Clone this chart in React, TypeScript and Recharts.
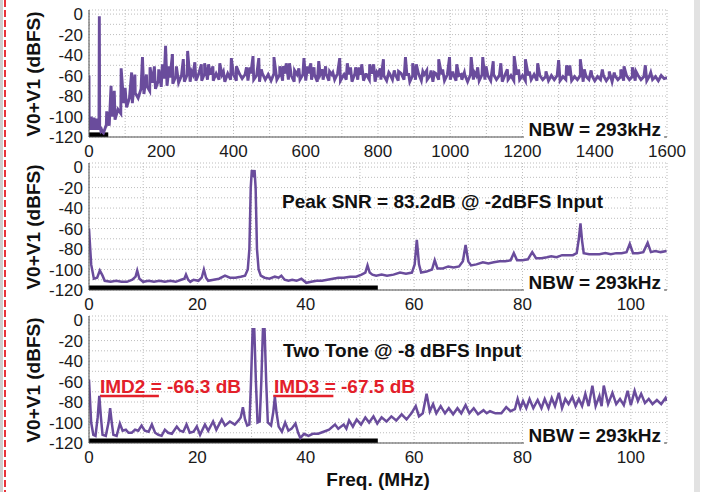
import React from 'react';
import { LineChart, Line, XAxis, YAxis, CartesianGrid, ReferenceArea, ReferenceLine } from 'recharts';

const PURPLE = '#6a4c9c';
const RED = '#e3202a';
const AXIS = '#505050';
const GRID = '#bdbdbd';
const FONT = '"Liberation Sans", Arial, sans-serif';

const yTicks = [-120, -110, -100, -90, -80, -70, -60, -50, -40, -30, -20, -10, 0];
const wideTicks = [0, 100, 200, 300, 400, 500, 600, 700, 800, 900, 1000, 1100, 1200, 1300, 1400, 1500, 1600];
const narrowTicks = [0, 10, 20, 30, 40, 50, 60, 70, 80, 90, 100];

// top panel, 0-1600 MHz: low band below 40 MHz, noise floor every 8 MHz, spurs
const wideLowFreq = [0, 0.5, 2, 4, 6, 8, 10, 12, 14, 16, 18, 20, 22, 24, 26, 27.5, 28.6, 29.6, 31, 33, 35, 37];
const wideLowVal = [-60, -112, -104, -113, -100, -112, -106, -113, -101, -111, -104, -113, -102, -112, -108, -113, -2, -112, -110, -114, -113, -115];

const FLOOR_START = 40;
const FLOOR_STEP = 8;
const wideFloorVal = [
  -116, -108, -109, -100, -103, -93, -97, -87, -91, -82,
  -87, -77, -82, -73, -78, -70, -75, -67, -73, -65,
  -71, -63, -70, -62, -68, -61, -67, -60, -66, -59,
  -66, -59, -65, -58, -65, -58, -64, -59, -65, -58,
  -64, -59, -66, -58, -64, -59, -65, -58, -63, -59,
  -65, -58, -64, -60, -66, -58, -64, -59, -65, -58,
  -64, -59, -65, -58, -64, -60, -66, -59, -64, -59,
  -65, -58, -64, -59, -66, -59, -64, -58, -65, -59,
  -64, -58, -65, -60, -64, -59, -66, -58, -64, -59,
  -65, -59, -64, -58, -66, -59, -64, -60, -65, -58,
  -64, -59, -65, -58, -64, -59, -66, -60, -64, -58,
  -65, -59, -64, -60, -66, -58, -64, -59, -65, -59,
  -64, -58, -65, -60, -64, -59, -66, -59, -64, -60,
  -65, -59, -64, -60, -65, -59, -64, -60, -66, -59,
  -64, -60, -65, -59, -64, -60, -65, -60, -64, -59,
  -65, -60, -64, -61, -65, -60, -64, -60, -65, -61,
  -64, -60, -65, -61, -64, -60, -66, -61, -64, -60,
  -65, -61, -64, -60, -65, -61, -66, -60, -64, -61,
  -65, -60, -64, -61, -65, -60, -64, -61, -65, -60,
  -64, -61, -65, -60, -63, -62,
];

const wideSpurFreq = [
  49, 61, 70, 89, 100, 118, 127, 148, 159, 169,
  181, 193, 203, 212, 222, 231, 242, 261, 273, 284,
  293, 311, 320, 331, 343, 362, 372, 394, 408, 436,
  445, 454, 470, 477, 512, 528, 537, 546, 555, 569,
  581, 595, 605, 614, 623, 636, 646, 655, 666, 675,
  694, 706, 715, 724, 738, 747, 755, 766, 777, 788,
  797, 806, 815, 830, 845, 857, 876, 885, 896, 906,
  924, 935, 947, 956, 968, 979, 998, 1007, 1018, 1030,
  1039, 1058, 1067, 1076, 1090, 1099, 1119, 1140, 1158, 1177,
  1189, 1208, 1219, 1242, 1265, 1300, 1322, 1331, 1360, 1371,
  1390, 1421, 1440, 1454, 1472, 1481, 1504, 1514, 1540, 1555,
];
const wideSpurVal = [
  -95, -70, -75, -53, -72, -57, -59, -42, -59, -52,
  -51, -54, -49, -31, -51, -39, -51, -44, -36, -56,
  -47, -49, -48, -49, -51, -48, -56, -43, -51, -52,
  -52, -41, -43, -54, -42, -51, -51, -48, -48, -55,
  -53, -43, -51, -48, -52, -46, -54, -51, -56, -57,
  -43, -59, -48, -52, -52, -52, -49, -59, -49, -49,
  -57, -53, -44, -57, -55, -56, -42, -59, -48, -49,
  -56, -55, -55, -57, -44, -54, -42, -56, -49, -59,
  -57, -42, -57, -52, -42, -51, -46, -48, -54, -41,
  -54, -44, -56, -48, -56, -45, -50, -50, -44, -54,
  -55, -54, -56, -57, -54, -51, -52, -56, -50, -57,
];

// middle panel, single tone
const sineFreq = [
  0, 0.4, 0.9, 1.5, 2.0, 2.5, 2.9, 4, 5, 6,
  7, 8, 8.6, 8.9, 9.3, 10, 11, 12, 13, 14,
  15, 16, 17, 17.6, 17.9, 18.3, 18.7, 19.3, 20.2, 20.8,
  21.2, 21.6, 22, 23, 24, 25.1, 26, 27, 28, 28.8,
  29.3, 29.6, 29.85, 30.05, 30.3, 30.55, 30.75, 31.0, 31.3, 31.7,
  32.4, 33.3, 34.3, 35, 35.5, 36.1, 36.8, 37.5, 38.3, 39.2,
  40.1, 41, 42, 43, 44, 45, 46, 47, 48.2, 49.3,
  50.3, 51.0, 51.4, 51.8, 52.3, 53, 54, 55, 56.2, 57.4,
  58.5, 59.6, 60.1, 60.5, 60.9, 61.3, 62.3, 63.3, 63.8, 64.3,
  65.3, 66.3, 67.3, 68.3, 69.0, 69.5, 70.0, 70.5, 71.5, 72.7,
  73.7, 74.7, 75.8, 76.8, 77.8, 78.4, 79.0, 80, 81, 81.8,
  82.5, 83.5, 84.5, 85.3, 86.3, 87.3, 88.3, 89.3, 90.0, 90.4,
  90.7, 91.0, 91.3, 92.3, 93.3, 94.2, 95.3, 96.3, 97.3, 98.3,
  99.2, 99.8, 100.4, 101.3, 102.3, 103.1, 103.7, 104.5, 105.5, 106.6,
];
const sineVal = [
  -60, -95, -109, -108, -101, -106, -111, -112, -111, -112,
  -112, -110, -107, -101, -109, -112, -111, -112, -111, -112,
  -111, -112, -110, -109, -105, -110, -112, -110, -111, -108,
  -100, -108, -111, -110, -109, -106, -108, -108, -107, -106,
  -100, -80, -20, -3, -7, -3, -20, -80, -100, -106,
  -108, -109, -107, -108, -106, -110, -111, -110, -111, -109,
  -113, -112, -111, -111, -110, -109, -108, -108, -107, -107,
  -105, -103, -96, -103, -105, -106, -105, -106, -105, -103,
  -104, -103, -95, -71, -95, -103, -102, -100, -91, -99,
  -99, -97, -98, -97, -92, -76, -92, -96, -95, -93,
  -94, -93, -92, -92, -91, -84, -91, -91, -90, -83,
  -89, -89, -88, -87, -88, -86, -86, -86, -84, -70,
  -55, -72, -84, -85, -85, -85, -84, -85, -84, -84,
  -83, -75, -84, -84, -83, -74, -83, -82, -83, -82,
];

// bottom panel, two tones
const twoToneFreq = [
  0, 0.4, 0.8, 1.2, 1.6, 1.9, 2.2, 2.5, 3.1, 3.6,
  3.9, 4.2, 4.5, 5.1, 5.7, 6.2, 6.8, 7.3, 7.9, 8.5,
  9.1, 9.7, 10.3, 11.0, 11.6, 12.2, 12.8, 13.4, 14.0, 14.6,
  15.3, 16.2, 16.8, 17.4, 18.0, 18.6, 19.3, 19.9, 20.5, 21.4,
  22.0, 22.9, 23.5, 24.5, 25.1, 26.0, 26.9, 27.6, 28.0, 28.4,
  28.8, 29.2, 29.6, 29.9, 30.2, 30.5, 30.8, 31.1, 31.5, 31.8,
  32.1, 32.4, 32.7, 33.0, 33.6, 34.0, 34.3, 34.6, 35.0, 35.6,
  36.2, 36.8, 37.4, 38.1, 38.6, 39.0, 39.7, 40.5, 41.3, 42.3,
  43.3, 44.3, 45.4, 46.0, 47.0, 47.5, 48.0, 48.7, 49.4, 50.2,
  51.0, 51.7, 52.5, 53.2, 54.0, 54.9, 55.8, 56.7, 57.7, 58.6,
  59.5, 60.3, 60.9, 61.6, 62.3, 62.9, 63.5, 64.1, 64.9, 65.7,
  66.4, 67.2, 68.0, 68.7, 69.5, 70.2, 71.0, 71.8, 72.8, 73.4,
  74.0, 75.0, 76.1, 77.0, 77.8, 78.6, 79.1, 79.6, 80.1, 80.7,
  81.3, 82.0, 82.8, 83.5, 84.1, 84.8, 85.4, 86.0, 86.7, 87.3,
  87.9, 88.5, 89.2, 89.8, 90.4, 91.0, 91.6, 92.2, 92.9, 93.5,
  94.2, 94.6, 95.0, 95.8, 96.6, 97.3, 98.0, 98.7, 99.4, 100.0,
  100.7, 101.3, 101.9, 102.6, 103.3, 104.0, 104.8, 105.6, 106.4, 106.6,
];
const twoToneVal = [
  -58, -100, -112, -113, -95, -74, -95, -112, -113, -100,
  -86, -100, -112, -113, -101, -108, -107, -110, -110, -107,
  -108, -103, -108, -109, -102, -110, -112, -113, -107, -110,
  -111, -104, -108, -109, -102, -110, -109, -104, -112, -102,
  -108, -99, -107, -97, -103, -99, -102, -98, -95, -85,
  -97, -103, -102, -60, -9, -9, -60, -100, -99, -60,
  -9, -9, -60, -100, -103, -90, -75, -90, -104, -109,
  -100, -108, -106, -101, -110, -115, -111, -113, -111, -111,
  -109, -107, -102, -106, -102, -106, -98, -104, -97, -102,
  -95, -100, -94, -101, -95, -99, -94, -98, -92, -97,
  -91, -84, -94, -91, -72, -89, -82, -91, -84, -91,
  -86, -92, -86, -91, -83, -91, -86, -92, -88, -91,
  -89, -91, -91, -85, -89, -87, -77, -86, -79, -86,
  -77, -86, -78, -86, -77, -86, -76, -84, -71, -86,
  -77, -82, -75, -84, -77, -84, -72, -84, -64, -84,
  -74, -84, -64, -82, -71, -82, -77, -83, -69, -83,
  -69, -79, -72, -81, -77, -82, -78, -82, -76, -79,
];

type Pt = { f: number; v: number };
const zip = (fs: number[], vs: number[]): Pt[] => fs.map((f, i) => ({ f, v: vs[i] }));

const wideData: Pt[] = [
  ...zip(wideLowFreq, wideLowVal),
  ...wideFloorVal.map((v, i) => ({ f: FLOOR_START + i * FLOOR_STEP, v })),
  ...zip(wideSpurFreq, wideSpurVal),
].sort((a, b) => a.f - b.f);
const sineData = zip(sineFreq, sineVal);
const twoToneData = zip(twoToneFreq, twoToneVal);

const NARROW_MAX = 106.67;
const BAND_EDGE = 53.3;

const tickStyle = { fontSize: 17, fill: '#1a1a1a', fontFamily: FONT };

interface PanelProps {
  top: number;
  data: Pt[];
  xMax: number;
  xTicks: number[];
  labelStep: number;
  lineWidth?: number;
  children?: React.ReactNode;
}

function Panel({ top, data, xMax, xTicks, labelStep, lineWidth = 2.5, children }: PanelProps) {
  return (
    <div style={{ position: 'absolute', left: 0, top, width: 702, height: 160 }}>
      <LineChart width={702} height={160} data={data} margin={{ top: 10, right: 35, bottom: 0, left: 0 }}>
        <CartesianGrid stroke={GRID} strokeDasharray="1 2" />
        <XAxis
          dataKey="f"
          type="number"
          domain={[0, xMax]}
          ticks={xTicks}
          interval={0}
          allowDataOverflow
          height={23}
          tickLine={false}
          axisLine={{ stroke: AXIS }}
          tick={tickStyle}
          tickFormatter={(t: number) => (t % labelStep === 0 ? String(t) : '')}
        />
        <XAxis
          xAxisId="top"
          orientation="top"
          type="number"
          domain={[0, xMax]}
          ticks={xTicks}
          interval={0}
          height={0}
          mirror
          tickSize={4}
          axisLine={{ stroke: AXIS }}
          tickLine={{ stroke: AXIS }}
          tickFormatter={() => ''}
        />
        <YAxis
          type="number"
          domain={[-120, 4]}
          ticks={yTicks}
          interval={0}
          allowDataOverflow
          width={89}
          tickSize={4}
          tickMargin={2}
          tickLine={false}
          axisLine={{ stroke: AXIS }}
          tick={tickStyle}
          tickFormatter={(t: number) => (t % 20 === 0 ? String(t) : '')}
        />
        <YAxis
          yAxisId="right"
          orientation="right"
          type="number"
          domain={[-120, 4]}
          ticks={yTicks}
          interval={0}
          width={0}
          mirror
          tickSize={4}
          axisLine={{ stroke: AXIS }}
          tickLine={{ stroke: AXIS }}
          tickFormatter={() => ''}
        />
        <ReferenceArea x1={0} x2={BAND_EDGE} y1={-120} y2={-115.5} fill="#000" fillOpacity={1} stroke="none" />
        {children}
        <Line
          dataKey="v"
          type="linear"
          stroke={PURPLE}
          strokeWidth={lineWidth}
          dot={false}
          isAnimationActive={false}
        />
      </LineChart>
    </div>
  );
}

const bold: React.CSSProperties = {
  position: 'absolute',
  fontFamily: FONT,
  fontWeight: 700,
  fontSize: 19,
  lineHeight: '19px',
  whiteSpace: 'nowrap',
  color: '#111',
};

function YLabel({ cy }: { cy: number }) {
  return (
    <div
      style={{
        ...bold,
        left: 33,
        top: cy,
        transform: 'translate(-50%, -50%) rotate(-90deg)',
      }}
    >
      V0+V1 (dBFS)
    </div>
  );
}

function Nbw({ top }: { top: number }) {
  return (
    <div style={{ ...bold, right: 38, top, background: '#fff', padding: '0 3px 0 4px' }}>NBW = 293kHz</div>
  );
}

export default function App() {
  return (
    <div
      style={{
        position: 'absolute',
        left: 0,
        top: 0,
        width: 702,
        height: 492,
        background: '#fff',
        overflow: 'hidden',
      }}
    >
      <div style={{ position: 'absolute', left: 0, top: 0, width: 3, height: 492, background: '#cfcfcf' }} />
      <div
        style={{
          position: 'absolute',
          left: 3.5,
          top: 0,
          width: 2.5,
          height: 492,
          background: 'repeating-linear-gradient(to bottom, #e8323a 0 7px, transparent 7px 10px)',
        }}
      />
      <div style={{ position: 'absolute', left: 694, top: 0, width: 6, height: 492, background: '#e2e2e2' }} />

      <Panel top={0} data={wideData} xMax={1600} xTicks={wideTicks} labelStep={200} lineWidth={2.9} />
      <Panel top={153} data={sineData} xMax={NARROW_MAX} xTicks={narrowTicks} labelStep={20} />
      <Panel top={306} data={twoToneData} xMax={NARROW_MAX} xTicks={narrowTicks} labelStep={20}>
        <ReferenceLine segment={[{ x: 2.03, y: -74 }, { x: 12.9, y: -74 }]} stroke={RED} strokeWidth={2.5} />
        <ReferenceLine segment={[{ x: 34.0, y: -74 }, { x: 45.1, y: -74 }]} stroke={RED} strokeWidth={2.5} />
      </Panel>

      <YLabel cy={73.5} />
      <YLabel cy={226.5} />
      <YLabel cy={379.5} />

      <Nbw top={120} />
      <Nbw top={273} />
      <Nbw top={426} />

      <div style={{ ...bold, left: 282, top: 192 }}>Peak SNR = 83.2dB @ -2dBFS Input</div>
      <div style={{ ...bold, left: 283, top: 341 }}>Two Tone @ -8 dBFS Input</div>
      <div style={{ ...bold, color: RED, left: 100, top: 377 }}>IMD2 = -66.3 dB</div>
      <div style={{ ...bold, color: RED, left: 274, top: 377 }}>IMD3 = -67.5 dB</div>
      <div style={{ ...bold, left: 378, top: 470, transform: 'translateX(-50%)' }}>Freq. (MHz)</div>
    </div>
  );
}
